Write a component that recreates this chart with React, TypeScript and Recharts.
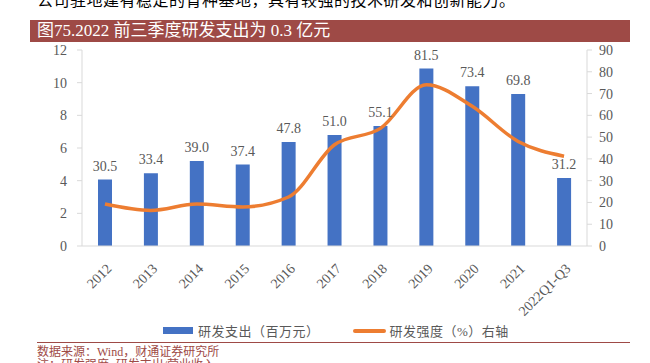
import React from "react";
import { ComposedChart, Bar, Line, XAxis, YAxis, LabelList } from "recharts";

const years = ["2012", "2013", "2014", "2015", "2016", "2017", "2018", "2019", "2020", "2021", "2022Q1-Q3"];
const spend = [30.5, 33.4, 39.0, 37.4, 47.8, 51.0, 55.1, 81.5, 73.4, 69.8, 31.2];
const intensity = [2.57, 2.18, 2.57, 2.39, 3.0, 6.2, 7.2, 9.87, 8.55, 6.4, 5.5];
const leftTicks = [0, 2, 4, 6, 8, 10, 12];
const rightTicks = [0, 10, 20, 30, 40, 50, 60, 70, 80, 90];

const data = years.map((y, i) => ({ year: y, spend: spend[i], intensity: intensity[i] }));

const SERIF = "'Liberation Serif', 'Times New Roman', 'Noto Sans CJK SC', serif";
const GREY = "#595959";
const AXIS = "#D9D9D9";
const BROWN = "#9E4A46";

function YearTick({ x, y, payload }: any) {
  const ax = x + 4;
  const ay = y + 12;
  return (
    <text x={ax} y={ay} dy="0.35em" transform={`rotate(-45, ${ax}, ${ay})`} textAnchor="end"
      fontSize={14} fontFamily={SERIF} fill={GREY}>
      {payload.value}
    </text>
  );
}

export default function App() {
  return (
    <div style={{ position: "fixed", left: 0, top: 0, width: 650, height: 363, overflow: "hidden", background: "#fff", fontFamily: SERIF }}>
      <div style={{ position: "absolute", left: 37, top: -7, fontSize: 16, lineHeight: "16px", letterSpacing: 0.5, color: "#000", whiteSpace: "nowrap" }}>
        公司驻地建有稳定的育种基地，具有较强的技术研发和创新能力。
      </div>
      <div style={{ position: "absolute", left: 30, top: 20, width: 600, height: 22, background: BROWN, color: "#fff", fontSize: 17, lineHeight: "22px", paddingLeft: 7, boxSizing: "border-box", whiteSpace: "nowrap" }}>
        图75.2022 前三季度研发支出为 0.3 亿元
      </div>
      <div style={{ position: "absolute", left: 0, top: 0 }}>
        <ComposedChart width={650} height={363} data={data} margin={{ top: 50, right: 23, bottom: 0, left: 42 }} barSize={14}>
          <XAxis dataKey="year" height={117} tick={<YearTick />} tickLine={false} axisLine={{ stroke: AXIS }} interval={0} />
          <YAxis yAxisId="left" orientation="left" width={40} domain={[0, 12]} ticks={leftTicks} tickSize={5} tickMargin={10}
            axisLine={{ stroke: AXIS }} tickLine={{ stroke: AXIS }} tick={{ fontSize: 14, fill: GREY, fontFamily: SERIF }} />
          <YAxis yAxisId="right" orientation="right" width={40} domain={[0, 90]} ticks={rightTicks} tickSize={5} tickMargin={7}
            axisLine={{ stroke: AXIS }} tickLine={{ stroke: AXIS }} tick={{ fontSize: 14, fill: GREY, fontFamily: SERIF }} />
          <Bar yAxisId="right" dataKey="spend" fill="#4472C4" isAnimationActive={false}>
            <LabelList dataKey="spend" position="top" offset={9} fontSize={14} fill={GREY} fontFamily={SERIF}
              formatter={(v: any) => Number(v).toFixed(1)} />
          </Bar>
          <Line yAxisId="left" type="monotone" dataKey="intensity" stroke="#ED7D31" strokeWidth={3.5} dot={false} isAnimationActive={false} />
        </ComposedChart>
      </div>
      <div style={{ position: "absolute", left: 163, top: 321, display: "flex", alignItems: "center", fontSize: 13, letterSpacing: 0.5, color: GREY, whiteSpace: "nowrap" }}>
        <span style={{ display: "inline-block", width: 30, height: 7, background: "#4472C4", marginRight: 5 }} />
        <span>研发支出（百万元）</span>
        <span style={{ display: "inline-block", width: 33, height: 4, borderRadius: 2, background: "#ED7D31", marginLeft: 33, marginRight: 4 }} />
        <span>研发强度（%）右轴</span>
      </div>
      <div style={{ position: "absolute", left: 37, top: 342, width: 593, height: 0, borderTop: `1px solid ${BROWN}` }} />
      <div style={{ position: "absolute", left: 37, top: 345, fontSize: 12, lineHeight: "14px", color: BROWN, whiteSpace: "nowrap" }}>
        数据来源：Wind，财通证券研究所
      </div>
      <div style={{ position: "absolute", left: 37, top: 358, fontSize: 12, lineHeight: "14px", color: BROWN, whiteSpace: "nowrap" }}>
        注：研发强度=研发支出/营业收入
      </div>
    </div>
  );
}
